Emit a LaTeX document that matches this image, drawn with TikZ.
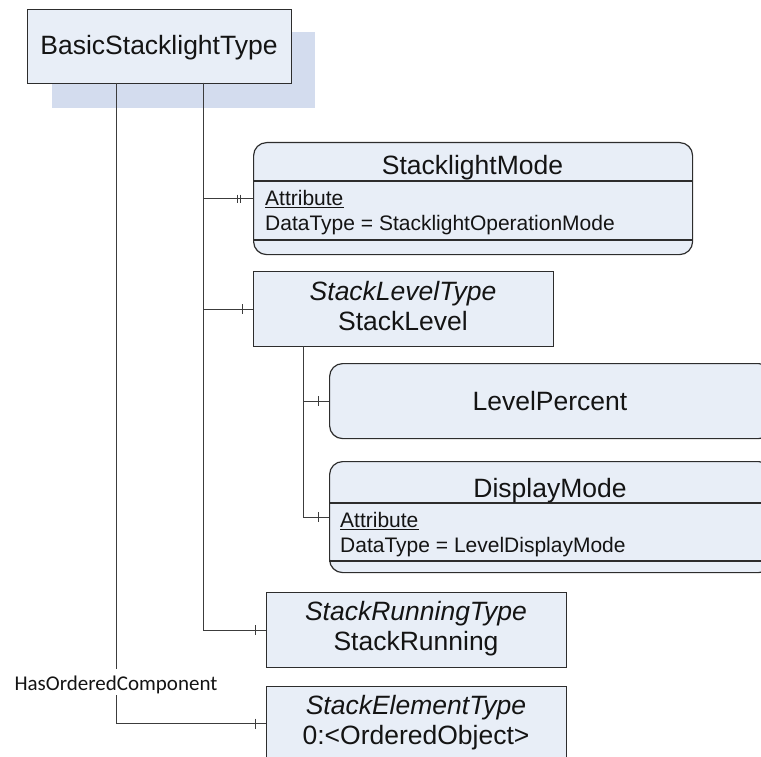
\documentclass[tikz,border=0pt]{standalone}
\usepackage{fontspec}
\setmainfont{Liberation Sans}
\newfontfamily\boxfont{Liberation Sans}
\newfontfamily\lblfont{Carlito}
\usetikzlibrary{calc}

\definecolor{boxfill}{RGB}{232,238,247}
\definecolor{shadowfill}{RGB}{211,220,238}
\definecolor{boxdraw}{RGB}{45,45,45}
\definecolor{conndraw}{RGB}{60,60,60}
\definecolor{inktext}{RGB}{20,20,20}

\newcommand\diagTitle{\boxfont\fontsize{26.5}{30}\selectfont}
\newcommand\diagAttr{\boxfont\fontsize{21}{25}\selectfont}
\newcommand\diagLabel{\lblfont\fontsize{21}{25}\selectfont}

\tikzset{
  box/.style={draw=boxdraw, line width=1.2pt, fill=boxfill, inner sep=0pt, anchor=north west},
  rbox/.style={box, rounded corners=13pt},
  sepline/.style={draw=boxdraw, line width=1.1pt},
  conn/.style={draw=conndraw, line width=1pt},
  tick/.style={draw=conndraw, line width=1pt},
  ttl/.style={font=\diagTitle, text=inktext, inner sep=0pt, anchor=base},
  ttlit/.style={ttl, font=\diagTitle\itshape},
  attr/.style={font=\diagAttr, text=inktext, inner sep=0pt, anchor=base west},
  ulink/.style={draw=inktext, line width=1pt},
}

\begin{document}
\begin{tikzpicture}[x=1pt, y=-1pt]
  \useasboundingbox (0,0) rectangle (761,757);
  \clip (0,0) rectangle (761,757);

  % root class with its drop shadow
  \fill[shadowfill] (52,32) rectangle (315,108);
  \node[box, minimum width=264pt, minimum height=74pt] (basic) at (27,9) {};
  \node[ttl] (basictxt) at (159,55) {BasicStacklightType};

  % trunk start points under the root class
  \coordinate (lt) at (116,83);
  \coordinate (rt) at (203,83);

  % StacklightMode attribute
  \node[rbox, minimum width=439pt, minimum height=112pt] (sm) at (253,142) {};
  \draw[sepline] ([yshift=-39pt]sm.north west) -- ([yshift=-39pt]sm.north east);
  \draw[sepline] ([yshift=-98pt]sm.north west) -- ([yshift=-98pt]sm.north east);
  \node[ttl] (smtxt) at (472.5,175) {StacklightMode};
  \node[attr] (smattr) at (265,205) {Attribute};
  \draw[ulink] ([yshift=-2.5pt]smattr.base west) -- ([yshift=-2.5pt]smattr.base east);
  \node[attr] (smdt) at (265,230) {DataType = StacklightOperationMode};

  % StackLevel component
  \node[box, minimum width=300pt, minimum height=75pt] (sl) at (253,271) {};
  \node[ttlit] (sltype) at (403,300) {StackLevelType};
  \node[ttl] (slname) at (403,330) {StackLevel};
  \coordinate (st) at (303,346);

  % LevelPercent
  \node[rbox, minimum width=442pt, minimum height=75pt] (lp) at (329,363) {};
  \node[ttl] (lptxt) at (550,410) {LevelPercent};

  % DisplayMode attribute
  \node[rbox, minimum width=442pt, minimum height=111pt] (dm) at (329,461) {};
  \draw[sepline] ([yshift=-42pt]dm.north west) -- ([yshift=-42pt]dm.north east);
  \draw[sepline] ([yshift=-100pt]dm.north west) -- ([yshift=-100pt]dm.north east);
  \node[ttl] (dmtxt) at (550,497) {DisplayMode};
  \node[attr] (dmattr) at (340,527) {Attribute};
  \draw[ulink] ([yshift=-2.5pt]dmattr.base west) -- ([yshift=-2.5pt]dmattr.base east);
  \node[attr] (dmdt) at (340,552) {DataType = LevelDisplayMode};

  % StackRunning component
  \node[box, minimum width=300pt, minimum height=75pt] (sr) at (266,592) {};
  \node[ttlit] (srtype) at (416,620) {StackRunningType};
  \node[ttl] (srname) at (416,650) {StackRunning};

  % ordered StackElement components
  \node[box, minimum width=300pt, minimum height=74pt] (se) at (266,686) {};
  \node[ttlit] (setype) at (416,714) {StackElementType};
  \node[ttl] (sename) at (416,744) {0:<OrderedObject>};

  % relation label on the left trunk
  \node[font=\diagLabel, text=inktext, inner sep=0pt, text height=21pt, text depth=5pt, anchor=base] (hoc) at (116,690) {HasOrderedComponent};

  % connectors
  \draw[conn] (rt) |- (sm.west);
  \draw[conn] (rt) |- (sl.west);
  \draw[conn] (rt) |- (sr.west);
  \draw[conn] (st) |- (lp.west);
  \draw[conn] (st) |- (dm.west);
  \draw[conn] (lt) -- (hoc);
  \draw[conn] (hoc) |- (se.west);

  % multiplicity ticks
  \draw[tick] ([xshift=-16pt,yshift=4pt]sm.west) -- ([xshift=-16pt,yshift=-4pt]sm.west);
  \draw[tick] ([xshift=-13pt,yshift=4pt]sm.west) -- ([xshift=-13pt,yshift=-4pt]sm.west);
  \draw[tick] ([xshift=-11pt,yshift=5pt]sl.west) -- ([xshift=-11pt,yshift=-5pt]sl.west);
  \draw[tick] ([xshift=-11pt,yshift=5pt]lp.west) -- ([xshift=-11pt,yshift=-5pt]lp.west);
  \draw[tick] ([xshift=-11pt,yshift=5pt]dm.west) -- ([xshift=-11pt,yshift=-5pt]dm.west);
  \draw[tick] ([xshift=-11pt,yshift=5pt]sr.west) -- ([xshift=-11pt,yshift=-5pt]sr.west);
  \draw[tick] ([xshift=-11pt,yshift=5pt]se.west) -- ([xshift=-11pt,yshift=-5pt]se.west);
\end{tikzpicture}
\end{document}
